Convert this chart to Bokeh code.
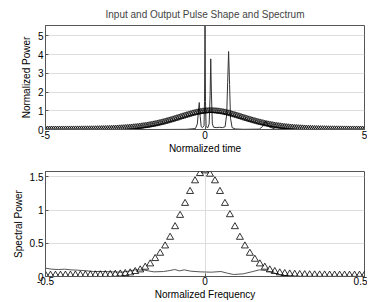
from bokeh.plotting import figure
from bokeh.layouts import column
from bokeh.models import FixedTicker, Range1d
from bokeh.embed import file_html
from bokeh.resources import INLINE
import numpy as np

# ---------------- data ----------------
# input pulse (triangles), time grid -5..5, 161 points
t_in = np.linspace(-5, 5, 161)
p_in = [
    0.001, 0.001, 0.001, 0.002, 0.002, 0.002, 0.002, 0.003, 0.003,
    0.003, 0.004, 0.004, 0.005, 0.005, 0.006, 0.007, 0.007, 0.008, 0.009,
    0.010, 0.011, 0.012, 0.013, 0.014, 0.016, 0.018, 0.020, 0.022, 0.024,
    0.027, 0.030, 0.033, 0.037, 0.041, 0.045, 0.050, 0.056, 0.062, 0.068,
    0.075, 0.083, 0.090, 0.100, 0.110, 0.120, 0.130, 0.142, 0.155, 0.170,
    0.185, 0.200, 0.215, 0.235, 0.255, 0.275, 0.295, 0.320, 0.345, 0.370,
    0.395, 0.425, 0.455, 0.485, 0.515, 0.545, 0.580, 0.610, 0.645, 0.680,
    0.710, 0.745, 0.775, 0.805, 0.835, 0.865, 0.890, 0.915, 0.935, 0.955,
    0.970, 0.980, 0.990, 0.998,
    1.000,
    0.998, 0.990, 0.980, 0.970, 0.955, 0.935, 0.915, 0.890, 0.865, 0.835,
    0.805, 0.775, 0.745, 0.710, 0.680, 0.645, 0.610, 0.580, 0.545, 0.515,
    0.485, 0.455, 0.425, 0.395, 0.370, 0.345, 0.320, 0.295, 0.275, 0.255,
    0.235, 0.215, 0.200, 0.185, 0.170, 0.155, 0.142, 0.130, 0.120, 0.110,
    0.100, 0.090, 0.083, 0.075, 0.068, 0.062, 0.056, 0.050, 0.045, 0.041,
    0.037, 0.033, 0.030, 0.027, 0.024, 0.022, 0.020, 0.018, 0.016, 0.014,
    0.013, 0.012, 0.011, 0.010, 0.009, 0.008, 0.007, 0.007, 0.006, 0.005,
    0.005, 0.004, 0.004, 0.003, 0.003, 0.003, 0.002,
]

# output pulse (solid line)
t_out = [-5.0, -1.5, -0.6, -0.3, -0.24, -0.21, -0.18, -0.15, -0.12, -0.08,
         -0.03, -0.015, 0.0, 0.015, 0.035, 0.09, 0.13, 0.16, 0.18, 0.2,
         0.23, 0.27, 0.35, 0.45, 0.55, 0.63, 0.68, 0.71, 0.74, 0.77,
         0.8, 0.85, 0.95, 1.2, 1.7, 1.8, 1.9, 2.0, 2.2, 3.0, 5.0]
p_out = [0.0, 0.0, 0.01, 0.05, 0.3, 0.9, 1.44, 0.7, 0.15, 0.1,
         0.2, 1.5, 5.55, 1.5, 0.15, 0.1, 0.3, 1.8, 3.77, 2.0,
         0.3, 0.12, 0.1, 0.12, 0.1, 0.15, 0.8, 2.5, 4.16, 2.4,
         0.6, 0.1, 0.03, 0.01, 0.02, 0.15, 0.45, 0.15, 0.02, 0.0, 0.0]

# input spectrum (triangles), frequency grid -0.5..0.5, 65 points
f_in = np.linspace(-0.5, 0.5, 65)
s_in = [
    0.020, 0.020, 0.020, 0.020, 0.021, 0.021, 0.022, 0.022, 0.023, 0.024,
    0.025, 0.026, 0.028, 0.030, 0.033, 0.038, 0.045, 0.055, 0.075, 0.100,
    0.140, 0.190, 0.270, 0.350, 0.460, 0.590, 0.750, 0.920, 1.100, 1.280,
    1.440, 1.550, 1.590, 1.540, 1.440, 1.280, 1.100, 0.930, 0.750, 0.590,
    0.460, 0.350, 0.260, 0.190, 0.140, 0.100, 0.075, 0.055, 0.045, 0.038,
    0.033, 0.030, 0.028, 0.026, 0.025, 0.024, 0.023, 0.022, 0.022, 0.021,
    0.021, 0.020, 0.020, 0.020, 0.020,
]

# output spectrum (solid line)
f_out = [-0.5, -0.48, -0.46, -0.44, -0.42, -0.40, -0.37, -0.35, -0.32, -0.29,
         -0.26, -0.24, -0.22, -0.19, -0.16, -0.13, -0.11, -0.095, -0.08, -0.065,
         -0.045, -0.015, 0.02, 0.05, 0.07, 0.09, 0.12, 0.15, 0.17, 0.19,
         0.205, 0.237, 0.26, 0.3, 0.4, 0.5]
s_out = [0.125, 0.11, 0.105, 0.11, 0.10, 0.095, 0.085, 0.075, 0.075, 0.07,
         0.065, 0.08, 0.10, 0.095, 0.07, 0.075, 0.09, 0.105, 0.085, 0.10,
         0.08, 0.07, 0.065, 0.075, 0.05, 0.03, 0.04, 0.075, 0.10, 0.09,
         0.07, 0.025, 0.008, 0.003, 0.002, 0.002]

title_text = "Input and Output Pulse Shape and Spectrum"
FONT = "Liberation Sans"
FRAME = "#555555"
GRID = "#dddddd"


def style(p, xticks, yticks, xover):
    p.outline_line_color = FRAME
    p.outline_line_width = 1
    for ax in (p.xaxis, p.yaxis):
        ax.major_label_text_font = FONT
        ax.major_label_text_font_size = "10px"
        ax.major_label_text_color = "black"
        ax.axis_label_text_font = FONT
        ax.axis_label_text_font_size = "10px"
        ax.axis_label_text_font_style = "normal"
        ax.axis_label_text_color = "black"
        ax.axis_line_color = FRAME
        ax.major_tick_line_color = FRAME
        ax.major_tick_in = 3
        ax.major_tick_out = 0
        ax.minor_tick_line_color = None
    p.xaxis.ticker = FixedTicker(ticks=xticks)
    p.yaxis.ticker = FixedTicker(ticks=yticks)
    p.xaxis.major_label_overrides = xover
    p.xgrid.ticker = FixedTicker(ticks=xticks)
    p.ygrid.ticker = FixedTicker(ticks=yticks)
    p.xgrid.grid_line_color = GRID
    p.ygrid.grid_line_color = GRID
    p.xaxis.major_label_standoff = 1
    p.xaxis.axis_label_standoff = 1
    p.yaxis.major_label_standoff = 2
    p.yaxis.axis_label_standoff = 3


p1 = figure(width=367, height=163, x_range=Range1d(-5, 5), y_range=Range1d(0, 5.55),
            output_backend="svg", toolbar_location=None,
            min_border_left=45, min_border_right=3, min_border_top=25, min_border_bottom=34,
            title=title_text, x_axis_label="Normalized time", y_axis_label="Normalized Power")
p1.title.text_font = FONT
p1.title.text_font_size = "10px"
p1.title.text_font_style = "normal"
p1.title.align = "center"
p1.title.vertical_align = "middle"
style(p1, [-5, 0, 5], [0, 1, 2, 3, 4, 5], {-5: "-5", 0: "0", 5: "5"})
p1.line(t_out, p_out, line_color="#333333", line_width=1)
p1.scatter(t_in, p_in, marker="triangle", size=6, fill_color=None,
           line_color="black", line_width=0.8)

p2 = figure(width=367, height=139, x_range=Range1d(-0.5, 0.5), y_range=Range1d(0, 1.58),
            output_backend="svg", toolbar_location=None,
            min_border_left=45, min_border_right=3, min_border_top=8, min_border_bottom=26,
            x_axis_label="Normalized Frequency", y_axis_label="Spectral Power")
style(p2, [-0.5, 0, 0.5], [0, 0.5, 1, 1.5], {-0.5: "-0.5", 0: "0", 0.5: "0.5"})
p2.xaxis.major_label_standoff = 0
p2.xaxis.axis_label_standoff = 1
p2.line(f_out, s_out, line_color="#555555", line_width=1)
p2.scatter(f_in, s_in, marker="triangle", size=7, fill_color=None,
           line_color="black", line_width=0.8)

layout = column(p1, p2)
open("out.html", "w").write(file_html(layout, INLINE))
